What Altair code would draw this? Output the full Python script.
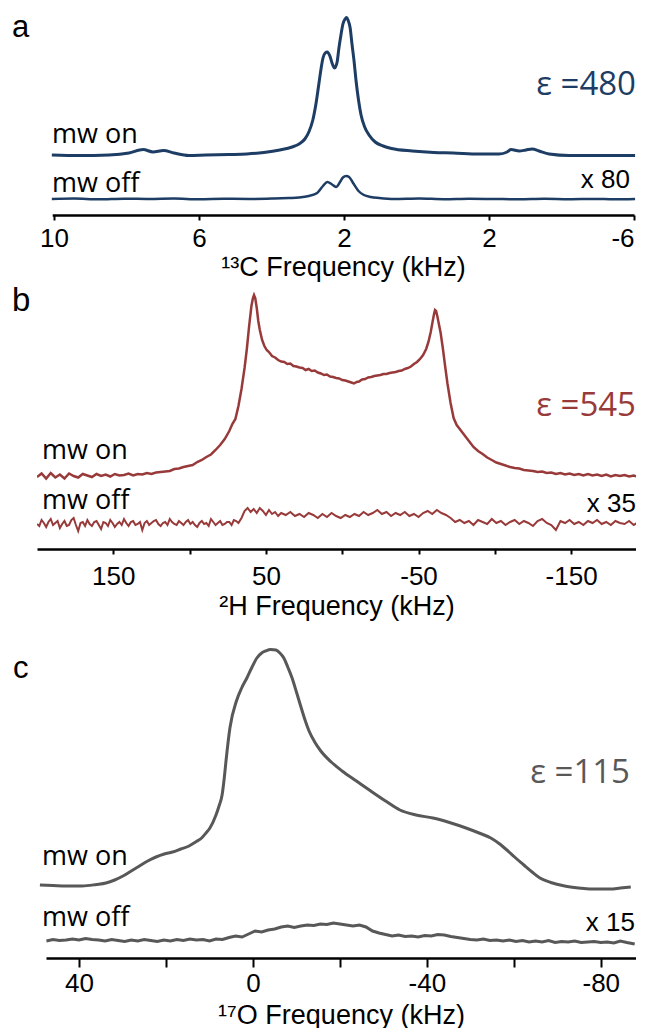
import altair as alt
import pandas as pd

# ---------------- data ----------------
# Panel a: 13C, intensity in arbitrary units, x in kHz
a_on = [(10.06,0),(9.31,-0.5),(8.48,0),(7.93,2),(7.54,5.5),(7.27,3),(6.98,4.5),(6.69,2),(6.28,-0.5),(5.81,0),
        (5.17,0.5),(4.68,1),(4.21,2.5),(3.77,5),(3.43,8),(3.24,11),(3.08,16),(2.97,23),(2.86,35),(2.77,52),
        (2.69,72),(2.63,87),(2.58,97),(2.52,102),(2.46,103),(2.39,99),(2.32,91),(2.26,87),(2.19,93),(2.14,107),
        (2.08,121),(2.03,131),(1.97,136),(1.93,137.5),(1.89,135),(1.83,127),(1.78,111),(1.72,93),(1.67,75),(1.60,55),
        (1.53,40),(1.43,28),(1.31,20),(1.14,13),(0.92,9),(0.69,6.5),(0.12,4),(-0.48,2.5),(-1.01,2),(-1.72,1),
        (-2.28,1),(-2.50,3),(-2.61,5.5),(-2.83,4),(-3.02,5),(-3.19,6),(-3.38,4),(-3.66,1),(-4.21,-0.5),(-5.03,-0.5),
        (-6.03,-0.5)]
a_off = [(10.06,0),(9.45,0.5),(8.76,-0.3),(8.07,0.3),(7.38,0),(6.69,0.4),(6.0,-0.2),(5.31,0.2),(4.62,0),(3.93,0.5),
         (3.52,1),(3.24,1.5),(2.97,3),(2.74,6),(2.58,13),(2.46,17),(2.33,14.5),(2.22,12),(2.11,17),(2.03,21.5),
         (1.94,23),(1.86,22),(1.75,16),(1.60,8),(1.45,4),(1.26,2),(1.03,1),(0.62,0),(-0.07,0.5),(-0.76,-0.2),
         (-1.45,0.3),(-2.14,0),(-2.83,-0.3),(-3.52,0.2),(-4.21,-0.2),(-4.90,0.1),(-5.45,-0.3),(-6.03,0)]
a_ticks = [10, 6, 2, -2, -6]
a_tick_labels = ["10", "6", "2", "2", "-6"]

# Panel b: 2H
b_on = [(200,-1),(197,2.5),(194,-2.5),(191,3),(188,-1.5),(185,1.5),(182,-2.5),(179,2.5),(176,0),(173,-1.5),
        (170,2),(167,0.5),(164,-1),(161,2),(158,0),(155,1.5),(152,-0.5),(149,2),(146,0.5),(143,1),
        (140,2.5),(137,0.5),(134,2),(131,1.5),(128,3),(125,2),(122,3.5),(119,4),(116,4.5),(113,5),
        (110,7),(107,7.5),(104,9),(101,10),(98,11),(95,14),(92,16),(89,19),(86,21.5),(83,26),
        (80,31),(77,37),(74,45),(72,52),(70,57),(68,70),(66,87),(64,108),(62.5,127),(61,150),
        (59.5,170),(58.5,178),(57.8,181),(57,178),(56,168),(55,155),(54,146),(52.5,136),(51,130),(49.5,126),
        (48,124),(46,120),(44,118.5),(42,116),(40,114.5),(38,114),(36,112),(34,112.5),(32,110),(30,109.5),
        (28,108.5),(26,108),(24,106),(22,107),(20,105),(18,105.5),(16,103.5),(14,102.5),(12,101),(10,101.5),
        (8,99.5),(6,99),(4,98),(2,97.5),(0,96),(-2,95.5),(-4,94.5),(-6,93.5),(-7.7,92.5),(-9.5,94),
        (-11,94.5),(-13,96.5),(-15,97),(-17,98.5),(-19,99),(-21,100),(-23,100.5),(-25,101),(-27,102),(-29,102),
        (-31,103),(-33,103.5),(-35,104),(-37,105),(-39,105.5),(-41,107),(-43,108),(-45,109.5),(-47,112),(-49,114),
        (-51,117),(-53,121),(-55,127),(-56.5,134),(-58,144),(-59.3,155),(-60.3,163),(-60.8,166),(-61.5,165),(-62.3,160),
        (-63.2,153),(-64.5,143),(-66,127),(-67.5,109),(-69,92),(-71,73),(-73,58),(-75,51),(-77,47),(-79,43),
        (-81,39),(-83,35),(-86,29),(-89,25),(-92,22),(-95,18.5),(-98,16),(-101,13.5),(-104,12),(-107,10.5),
        (-110,9),(-113,8),(-116,7.5),(-119,6),(-122,5.5),(-125,5),(-128,4),(-131,4.5),(-134,3),(-137,3.5),
        (-140,2),(-143,3),(-146,1.5),(-149,2.5),(-152,1),(-155,2),(-158,0.5),(-161,2),(-164,0.5),(-167,1.5),
        (-170,0),(-173,1.5),(-176,-0.5),(-179,1),(-182,0),(-185,1),(-188,-0.5),(-191,0.5),(-194,-1),(-197,0.5)]
b_off = [(200,0),(198.5,-2),(197,4),(195.5,1),(194,-3),(192.5,2),(191,5),(189.5,-1),(188,1),(186.5,3),
         (185,-4),(183.5,0),(182,3),(180.5,-2),(179,-1),(177.5,4),(176,6),(174.5,-1),(173,-7),(171.5,1),
         (170,2),(168.5,-2),(167,4),(165.5,0),(164,-2),(162.5,2),(161,3),(159.5,-1),(158,-5),(156.5,2),
         (155,1),(153.5,-2),(152,4),(150.5,1),(149,-3),(147.5,0),(146,2),(144.5,-1),(143,5),(141.5,1),
         (140,-2),(138.5,2),(137,3),(135.5,-1),(134,0),(132.5,2),(131,-6),(129.5,1),(128,3),(126.5,-1),
         (125,1),(123.5,3),(122,4),(120.5,0),(119,-2),(117.5,1),(116,2),(114.5,-1),(113,5),(111.5,2),
         (110,0),(108.5,-1),(107,3),(105.5,1),(104,-1),(102.5,2),(101,4),(99.5,0),(98,2),(96.5,-1),
         (95,-3),(93.5,1),(92,3),(90.5,0),(89,1),(87.5,-2),(86,5),(84.5,2),(83,-1),(81.5,1),
         (80,3),(78.5,-1),(77,0),(75.5,2),(74,2),(72.5,-1),(71,4),(69.5,3),(68,1),(66,6),
         (64,13),(62,16),(60,12),(58,15),(56,11),(54,16),(52,13),(50,9),(48,14),(46,10),
         (44,12),(42,8),(40,11),(37,9),(34,12),(31,8),(28,10),(25,7),(22,11),(19,9),
         (16,6),(13,10),(10,7),(7,11),(4,8),(1,6),(-2,9),(-5,7),(-8,10),(-11,8),
         (-14,12),(-17,9),(-20,11),(-23,14),(-26,10),(-29,12),(-32,8),(-35,11),(-38,9),(-41,12),
         (-44,8),(-47,10),(-50,7),(-53,11),(-56,13),(-59,10),(-62,14),(-65,11),(-68,9),(-71,6),
         (-74,2),(-77,4),(-80,1),(-83,3),(-86,-1),(-89,4),(-92,2),(-95,0),(-98,5),(-101,1),
         (-104,3),(-107,-1),(-110,2),(-113,4),(-116,0),(-119,3),(-122,1),(-125,-2),(-128,3),(-131,5),
         (-134,1),(-137,-1),(-140,-6),(-143,3),(-146,1),(-149,4),(-152,0),(-155,2),(-158,-1),(-161,3),
         (-164,1),(-167,4),(-170,0),(-173,2),(-176,-1),(-179,3),(-182,1),(-185,0),(-188,3),(-191,-1),
         (-194,2),(-197,0)]
b_ticks = [150, 100, 50, 0, -50, -100, -150]
b_tick_labels = ["150", "", "50", "", "-50", "", "-150"]

# Panel c: 17O
c_on = [(49.0,3),(46,2.5),(43,2),(39.3,2),(36,3.5),(33.8,5),(31.8,8),(29.9,12),(28,17),(26.1,22),
        (24.2,27),(22.3,31),(20.4,34),(18.5,36),(16.6,39),(14.7,42),(13.2,46),(11.8,50),(10.8,55),(9.9,60),
        (8.5,73),(7.8,82),(7.1,93),(6.6,110),(6.2,127),(5.3,160),(3.8,187),(2.6,200),(1.4,210),(0.2,221),
        (-0.9,230),(-2.0,235),(-2.9,237),(-4.1,238.5),(-5.3,238),(-6.2,235),(-7.1,230),(-8.0,221),(-9.0,210),(-10.0,196),
        (-10.9,183),(-11.9,169),(-12.9,157),(-14.2,146),(-15.6,137),(-18,126),(-20.5,117),(-23.8,107),(-27.1,97),(-30.5,87),
        (-33.8,78),(-37.5,73),(-41.4,70),(-45.2,65.5),(-49.0,60),(-52,55),(-54.7,50),(-56.6,44.5),(-58.4,38),(-60.3,30.5),
        (-62.3,23),(-64.2,16),(-66.0,10),(-68.5,5.5),(-71.7,2),(-75,0),(-77.5,-1),(-80,-1),(-82.2,-1),(-84.5,0),
        (-86.9,1)]
c_off = [(47.5,0),(46,1.5),(44.5,0.5),(43,1),(41.5,2),(40,1),(38.5,2.5),(37,1.5),(35.5,1),(34,0),
         (32.5,1.5),(31,0.5),(29.5,-0.5),(28,1),(26.5,0),(25,1.5),(23.5,0.5),(22,-0.5),(20.5,1),(19,0),
         (17.5,1.5),(16,0.5),(14.5,2),(13,1),(11.5,1.5),(10,0),(8.5,2),(7,1.5),(5.5,3.5),(4,5),
         (2.5,4),(1,7),(-0.5,10),(-2,9),(-3.5,11),(-5,12),(-6.5,14),(-8,15),(-9.5,13.5),(-11,15),
         (-12.5,16),(-14,15.5),(-15.5,17),(-17,16.5),(-18.5,18),(-20,17),(-21.5,16),(-23,15),(-24.5,16),(-26,14),
         (-27.5,10),(-29,8),(-30.5,6.5),(-32,5),(-33.5,6),(-35,4.5),(-36.5,5),(-38,4),(-39.5,5.5),(-41,5),
         (-42.5,6.5),(-44,6),(-45.5,4.5),(-47,3.5),(-48.5,2.5),(-50,1.5),(-51.5,1),(-53,2),(-54.5,0.5),(-56,1),
         (-57.5,0),(-59,1),(-60.5,-0.5),(-62,0.5),(-63.5,-1),(-65,0),(-66.5,-1),(-68,0.5),(-69.5,-1.5),(-71,-0.5),
         (-72.5,-1),(-74,0),(-75.5,-1.5),(-77,-1),(-78.5,-0.5),(-80,-1.5),(-81.5,-1),(-83,-2),(-84.5,0),(-86,-1.5),
         (-87.8,-3)]
c_ticks = [40, 20, 0, -20, -40, -60, -80]
c_tick_labels = ["40", "", "0", "", "-40", "", "-80"]

panel_letters = ["a", "b", "c"]
eps_labels = ["ε =480", "ε =545", "ε =115"]
scale_labels = ["x 80", "x 35", "x 15"]
axis_titles = ["¹³C Frequency (kHz)", "²H Frequency (kHz)", "¹⁷O Frequency (kHz)"]

# ---------------- styling ----------------
W = 599
TXT_FONT = "Open Sans"
AX_FONT = "Liberation Sans"
LETTER = {"font": AX_FONT}


def label_expr(ticks, labels):
    parts = [f"datum.value == {t} ? '{l}'" for t, l in zip(ticks, labels)]
    return " : ".join(parts) + " : ''"


def text_layer(txt, x, y, size, color="black", align="left", baseline="alphabetic", font=TXT_FONT):
    return alt.Chart(pd.DataFrame({"t": [txt]})).mark_text(
        font=font, fontSize=size, color=color, align=align, baseline=baseline
    ).encode(x=alt.value(x), y=alt.value(y), text="t:N")


def panel(on_pts, off_pts, on_offset, off_offset, color, dom, rng, ticks, tick_labels,
          title, height, texts, sw_on, sw_off, interp_on, interp_off, tick_size, label_pad, title_pad):
    df_on = pd.DataFrame(on_pts, columns=["khz", "v"])
    df_on["y"] = df_on["v"] + on_offset
    df_off = pd.DataFrame(off_pts, columns=["khz", "v"])
    df_off["y"] = df_off["v"] + off_offset

    x = alt.X("khz:Q",
              scale=alt.Scale(domain=dom, range=rng, nice=False, zero=False),
              axis=alt.Axis(values=ticks, labelExpr=label_expr(ticks, tick_labels), title=title,
                            labelFont=AX_FONT, labelFontSize=26, labelColor="black",
                            labelPadding=label_pad, labelFlush=1, labelOverlap=False,
                            tickSize=tick_size, tickWidth=2, tickColor="black",
                            domainColor="black", domainWidth=2.5, grid=False,
                            titleFont=AX_FONT, titleFontSize=27, titleFontWeight="normal",
                            titleColor="black", titlePadding=title_pad))
    y = alt.Y("y:Q", scale=alt.Scale(domain=[0, height], nice=False, zero=False), axis=None)

    on = alt.Chart(df_on).mark_line(color=color, strokeWidth=sw_on, interpolate=interp_on,
                                    clip=True).encode(x=x, y=y)
    off = alt.Chart(df_off).mark_line(color=color, strokeWidth=sw_off, interpolate=interp_off,
                                      clip=True).encode(x=x, y=y)
    layers = [on, off] + [text_layer(*t[:4], **t[4]) for t in texts]
    return alt.layer(*layers).properties(width=W, height=height)


NAVY = "#1d3d64"
RED = "#983a3a"
GRAY = "#585858"

pa = panel(a_on, a_off, 60, 16, NAVY, [10.05, -6.0], [15.2, 597], a_ticks, a_tick_labels,
           axis_titles[0], 207,
           [(panel_letters[0], -25, 28.5, 31, LETTER),
            (eps_labels[0], 599, 77, 33, {"color": NAVY, "align": "right", "baseline": "middle"}),
            ("mw on", 15, 135, 27, {}),
            ("mw off", 15, 184, 27, {}),
            (scale_labels[0], 593, 180, 26, {"align": "right", "font": AX_FONT})],
           3, 2.5, "monotone", "monotone", 5, 5, 3)

pb = panel(b_on, b_off, 73, 25, RED, [200, -192.5], [0, 599], b_ticks, b_tick_labels,
           axis_titles[1], 267,
           [(panel_letters[1], -25, 29, 33, LETTER),
            (eps_labels[1], 599, 124, 33, {"color": RED, "align": "right", "baseline": "middle"}),
            ("mw on", 5, 177, 27, {}),
            ("mw off", 5, 227, 27, {}),
            (scale_labels[1], 599, 230, 26, {"align": "right", "font": AX_FONT})],
           2.5, 2, "linear", "linear", 5, 9, 4)

pc = panel(c_on, c_off, 70, 17, GRAY, [47.6, -88.1], [9, 599], c_ticks, c_tick_labels,
           axis_titles[2], 337,
           [(panel_letters[2], -24, 57, 31, LETTER),
            (eps_labels[2], 593, 152, 33, {"color": GRAY, "align": "right", "baseline": "middle"}),
            ("mw on", 5, 244, 27, {}),
            ("mw off", 5, 305, 27, {}),
            (scale_labels[2], 598, 310, 26, {"align": "right", "font": AX_FONT})],
           3, 3, "monotone", "linear", 9, 3, 6)

chart = alt.vconcat(pa, pb, pc, spacing=2).properties(
    padding={"left": 4, "top": 0, "right": 0, "bottom": 0}
).configure_view(stroke=None)

chart.save("out.html", embed_options={"renderer": "svg", "actions": False})
